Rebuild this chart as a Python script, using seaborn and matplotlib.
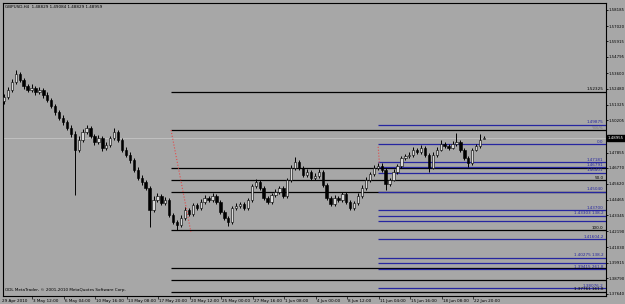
import numpy as np
import pandas as pd
import matplotlib
matplotlib.use("Agg")
import matplotlib.pyplot as plt
import matplotlib.transforms as mtransforms
import seaborn as sns

# ---------------- data (GBPUSD H4) ----------------
opens = [1.5160,1.5189,1.5240,1.5298,1.5356,1.5312,1.5269,1.5240,1.5254,1.5225,
1.5240,1.5204,1.5167,1.5124,1.5081,1.5037,1.5008,1.4965,1.4921,1.4806,
1.4878,1.4936,1.4965,1.4907,1.4864,1.4892,1.4820,1.4842,1.4892,1.4936,
1.4878,1.4806,1.4770,1.4733,1.4661,1.4603,1.4574,1.4531,1.4372,1.4444,
1.4473,1.4422,1.4444,1.4335,1.4285,1.4263,1.4314,1.4372,1.4343,1.4408,
1.4386,1.4430,1.4459,1.4444,1.4473,1.4430,1.4357,1.4314,1.4285,1.4386,
1.4401,1.4415,1.4386,1.4444,1.4545,1.4574,1.4531,1.4459,1.4430,1.4480,
1.4502,1.4531,1.4473,1.4589,1.4676,1.4719,1.4676,1.4625,1.4647,1.4603,
1.4618,1.4647,1.4553,1.4459,1.4415,1.4459,1.4444,1.4487,1.4430,1.4386,
1.4422,1.4473,1.4531,1.4589,1.4632,1.4676,1.4690,1.4661,1.4560,1.4589,
1.4647,1.4690,1.4748,1.4762,1.4770,1.4806,1.4791,1.4820,1.4770,1.4676,
1.4770,1.4806,1.4849,1.4835,1.4820,1.4849,1.4864,1.4806,1.4748,1.4712,
1.4806,1.4835,1.4883]

highs = [1.5210,1.5262,1.5318,1.5384,1.5370,1.5330,1.5285,1.5280,1.5268,1.5262,
1.5255,1.5225,1.5185,1.5140,1.5098,1.5060,1.5025,1.4990,1.4940,1.4905,
1.4958,1.4990,1.4980,1.4925,1.4912,1.4905,1.4866,1.4910,1.4962,1.4950,
1.4895,1.4825,1.4788,1.4750,1.4680,1.4625,1.4590,1.4548,1.4470,1.4495,
1.4490,1.4468,1.4460,1.4352,1.4300,1.4335,1.4390,1.4388,1.4425,1.4422,
1.4448,1.4478,1.4472,1.4495,1.4488,1.4445,1.4372,1.4330,1.4402,1.4420,
1.4432,1.4428,1.4460,1.4562,1.4598,1.4590,1.4545,1.4475,1.4498,1.4520,
1.4548,1.4545,1.4605,1.4695,1.4755,1.4735,1.4692,1.4668,1.4660,1.4640,
1.4665,1.4662,1.4570,1.4475,1.4478,1.4472,1.4505,1.4500,1.4445,1.4440,
1.4492,1.4550,1.4608,1.4650,1.4695,1.4712,1.4712,1.4675,1.4605,1.4665,
1.4708,1.4765,1.4780,1.4790,1.4825,1.4822,1.4840,1.4835,1.4785,1.4788,
1.4825,1.4878,1.4865,1.4852,1.4870,1.4929,1.4880,1.4822,1.4765,1.4822,
1.4852,1.4925,1.4908]

lows = [1.5140,1.5172,1.5225,1.5285,1.5295,1.5250,1.5222,1.5228,1.5205,1.5212,
1.5185,1.5150,1.5108,1.5062,1.5020,1.4990,1.4948,1.4900,1.4480,1.4790,
1.4860,1.4918,1.4890,1.4845,1.4850,1.4800,1.4805,1.4830,1.4878,1.4860,
1.4790,1.4752,1.4715,1.4645,1.4588,1.4555,1.4515,1.4249,1.4360,1.4430,
1.4405,1.4410,1.4320,1.4268,1.4230,1.4250,1.4300,1.4325,1.4330,1.4370,
1.4372,1.4415,1.4428,1.4432,1.4415,1.4340,1.4298,1.4255,1.4270,1.4370,
1.4388,1.4372,1.4375,1.4430,1.4530,1.4515,1.4442,1.4412,1.4418,1.4465,
1.4488,1.4458,1.4462,1.4575,1.4660,1.4662,1.4610,1.4612,1.4588,1.4590,
1.4605,1.4540,1.4445,1.4400,1.4402,1.4430,1.4432,1.4415,1.4372,1.4375,
1.4410,1.4460,1.4518,1.4575,1.4618,1.4662,1.4648,1.4516,1.4545,1.4578,
1.4632,1.4678,1.4735,1.4748,1.4758,1.4778,1.4780,1.4755,1.4647,1.4665,
1.4758,1.4795,1.4822,1.4808,1.4810,1.4835,1.4792,1.4735,1.4683,1.4700,
1.4795,1.4822,1.4883]

closes = [1.5189,1.5240,1.5298,1.5356,1.5312,1.5269,1.5240,1.5254,1.5225,1.5240,
1.5204,1.5167,1.5124,1.5081,1.5037,1.5008,1.4965,1.4921,1.4806,1.4878,
1.4936,1.4965,1.4907,1.4864,1.4892,1.4820,1.4842,1.4892,1.4936,1.4878,
1.4806,1.4770,1.4733,1.4661,1.4603,1.4574,1.4531,1.4372,1.4444,1.4473,
1.4422,1.4444,1.4335,1.4285,1.4263,1.4314,1.4372,1.4343,1.4408,1.4386,
1.4430,1.4459,1.4444,1.4473,1.4430,1.4357,1.4314,1.4285,1.4386,1.4401,
1.4415,1.4386,1.4444,1.4545,1.4574,1.4531,1.4459,1.4430,1.4480,1.4502,
1.4531,1.4473,1.4589,1.4676,1.4719,1.4676,1.4625,1.4647,1.4603,1.4618,
1.4647,1.4553,1.4459,1.4415,1.4459,1.4444,1.4487,1.4430,1.4386,1.4422,
1.4473,1.4531,1.4589,1.4632,1.4676,1.4690,1.4661,1.4560,1.4589,1.4647,
1.4690,1.4748,1.4762,1.4770,1.4806,1.4791,1.4820,1.4770,1.4676,1.4770,
1.4806,1.4849,1.4835,1.4820,1.4849,1.4864,1.4806,1.4748,1.4712,1.4806,
1.4835,1.4878,1.4896]

date_labels = ["29 Apr 2010", "3 May 12:00", "6 May 04:00", "10 May 16:00",
               "13 May 08:00", "17 May 20:00", "20 May 12:00", "25 May 00:00",
               "27 May 16:00", "1 Jun 08:00", "4 Jun 00:00", "8 Jun 12:00",
               "11 Jun 04:00", "15 Jun 16:00", "18 Jun 08:00", "22 Jun 20:00"]

# "1.49055" sits under the current-price box in the reference
price_labels = ["1.58185", "1.57020", "1.55915", "1.54795", "1.53600", "1.52480",
                "1.51325", "1.50205", "1.49055", "1.47855", "1.46770", "1.45620",
                "1.44465", "1.43345", "1.42190", "1.41030", "1.39915", "1.38790",
                "1.37640"]
hidden_label = "1.49055"

# Fibonacci retracement 1 (black)
fib1_levels = [1.5226, 1.4950, 1.4674, 1.4589, 1.4503, 1.4227, 1.3951, 1.3866, 1.3780]
fib1_texts = ["1.52325", "%%%", "", "50.0", "", "100.0", "", "", "1.37761 161.8"]
fib1_anchor = [1.4950, 1.4213]

# Fibonacci retracement 2 (blue)
fib2_levels = [1.49875, 1.48470, 1.47181, 1.46791, 1.46401, 1.45040, 1.43700,
               1.43303, 1.42920, 1.41604, 1.40275, 1.39860, 1.39415, 1.38076]
fib2_texts = ["1.49875", "0.0", "1.47181", "1.46791", "1.46401", "1.45040",
              "1.43700", "1.43303 138.2", "", "1.41604.2", "1.40275 138.2", "",
              "1.39415 261.8", "1.38076.2"]
fib2_anchor = [1.4829, 1.4712]

title_text = "GBPUSD,H4  1.48829 1.49084 1.48829 1.48959"
last_price = 1.48959
last_price_text = "1.48955"

# ---------------- styling ----------------
sns.set_theme(style="white")
plt.rcParams["font.family"] = ["DejaVu Sans"]
BG = "#a7a7a7"
FS = 3.0
FSY = 2.8

W, H = 625, 304
fig = plt.figure(figsize=(W / 100, H / 100), dpi=100, facecolor=BG)
ax = fig.add_axes([3 / W, 8 / H, 603 / W, 293 / H], facecolor=BG)

df = pd.DataFrame({"o": opens, "h": highs, "l": lows, "c": closes})
df["i"] = np.arange(len(df))
up = df["c"] >= df["o"]

# wicks
ax.vlines(df["i"], df["l"], df["h"], color="black", lw=0.7, zorder=3)
# bodies
ax.bar(df.loc[up, "i"], (df.loc[up, "c"] - df.loc[up, "o"]).clip(lower=0.0003),
       bottom=df.loc[up, "o"], width=0.6, color="#d9d9d9", edgecolor="black",
       linewidth=0.4, zorder=4)
ax.bar(df.loc[~up, "i"], (df.loc[~up, "o"] - df.loc[~up, "c"]),
       bottom=df.loc[~up, "c"], width=0.6, color="black", edgecolor="black",
       linewidth=0.4, zorder=4)

xmin, xmax = -0.25, 153.0
ax.set_xlim(xmin, xmax)
ax.set_ylim(1.37495, 1.58691)

# bid line
sns.lineplot(x=[xmin, xmax], y=[last_price, last_price], ax=ax, color="#c4c4c4",
             lw=0.6, zorder=2)

# fib 1 (black)
x1 = 42.45
for lev in fib1_levels:
    ax.hlines(lev, x1, xmax, color="black", lw=0.9, zorder=2)
ax.plot([x1, 47.5], fib1_anchor, color="#e24a4a", ls=":", lw=0.8, zorder=5)

# fib 2 (blue)
x2 = 95.1
for lev in fib2_levels:
    ax.hlines(lev, x2, xmax, color="#2626a0", lw=0.9, zorder=2)
ax.plot([x2, x2 + 0.3], fib2_anchor, color="#e24a4a", ls=":", lw=0.8, zorder=5)

trans = mtransforms.blended_transform_factory(ax.transAxes, ax.transData)
for lev, t in zip(fib1_levels, fib1_texts):
    if t:
        ax.text(0.996, lev + 0.0003, t, transform=trans, ha="right", va="bottom",
                fontsize=FS, color="#707070" if t == "%%%" else "black", zorder=6)
for lev, t in zip(fib2_levels, fib2_texts):
    if t:
        ax.text(0.996, lev + 0.0003, t, transform=trans, ha="right", va="bottom",
                fontsize=FS, color="#2626a0", zorder=6)

# y axis on the right
ax.yaxis.tick_right()
ax.set_yticks([float(s) for s in price_labels])
ax.set_yticklabels(["" if s == hidden_label else s for s in price_labels])
ax.tick_params(axis="y", which="both", right=True, left=False, length=1.6, width=0.6,
               pad=0.4, labelsize=FSY, colors="black")

# x axis ticks and labels (left aligned after the tick)
tick_pos = [8 * k - 0.76 for k in range(len(date_labels))]
ax.set_xticks([p for p in tick_pos if p >= xmin])
ax.set_xticklabels([])
ax.tick_params(axis="x", which="both", bottom=True, length=2, width=0.6,
               direction="out")
transx = mtransforms.blended_transform_factory(ax.transData, ax.transAxes)
for p, lab in zip(tick_pos, date_labels):
    ax.text(p + 0.25, -0.01, lab, transform=transx, ha="left", va="top",
            fontsize=FS, color="black", clip_on=False)

for sp in ax.spines.values():
    sp.set_color("black")
    sp.set_linewidth(0.8)
    sp.set_visible(True)

# current price box
ax.text(1.003, last_price, last_price_text, transform=trans, ha="left",
        va="center", fontsize=FSY, color="white", clip_on=False, zorder=10,
        bbox=dict(boxstyle="square,pad=0.25", fc="black", ec="black"))

ax.text(0.003, 0.992, title_text, transform=ax.transAxes, ha="left", va="top",
        fontsize=FS, color="black")
ax.text(0.003, 0.012, "ODL MetaTrader, \u00a9 2001-2010 MetaQuotes Software Corp.",
        transform=ax.transAxes, ha="left", va="bottom", fontsize=FS, color="black")

fig.savefig("out.png", dpi=100, facecolor=BG)
